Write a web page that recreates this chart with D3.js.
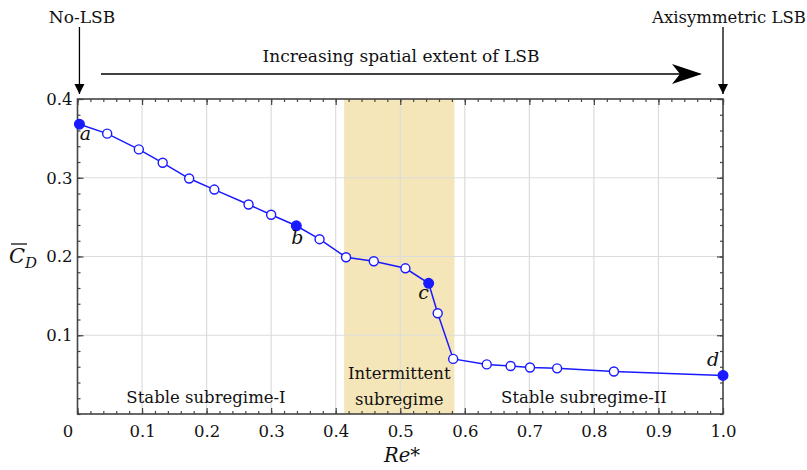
<!DOCTYPE html>
<html>
  <head>
    <meta charset="utf-8">
    <title>Drag coefficient vs Re*</title>
    <script src="https://d3js.org/d3.v7.min.js"></script>
    <style>
      body { margin: 0; background: #fff; }
      .grid line { stroke: #dcdcdc; stroke-width: 1.2; }
      .axis path { display: none; }
      .axis line { stroke: #444; stroke-width: 1.2; }
    </style>
  </head>
  <body>
    <svg id="chart" width="807" height="470" fill="#111"></svg>
    <script>
      // chart data
      var reStar = [0.003, 0.046, 0.095, 0.132, 0.173, 0.212, 0.265, 0.300, 0.339, 0.375, 0.416,
                    0.459, 0.508, 0.544, 0.558, 0.582, 0.634, 0.671, 0.701, 0.743, 0.831, 1.0];
      var cd = [0.368, 0.356, 0.336, 0.319, 0.299, 0.285, 0.266, 0.253, 0.239, 0.222, 0.199,
                0.194, 0.185, 0.166, 0.128, 0.070, 0.063, 0.061, 0.059, 0.058, 0.054, 0.049];
      // highlighted cases a-d (index into the series)
      var caseIdx = [0, 8, 13, 21];
      var caseNames = ["a", "b", "c", "d"];
      var intermittent = [0.413, 0.584];
      var xTicks = [0, 0.1, 0.2, 0.3, 0.4, 0.5, 0.6, 0.7, 0.8, 0.9, 1.0];
      var xTickLabels = ["0", "0.1", "0.2", "0.3", "0.4", "0.5", "0.6", "0.7", "0.8", "0.9", "1.0"];
      var yTicks = [0.1, 0.2, 0.3, 0.4];
      var yTickLabels = ["0.1", "0.2", "0.3", "0.4"];
      var regimes = ["Stable subregime-I", "Stable subregime-II"];

      var data = reStar.map(function(r, i) { return { x: r, y: cd[i], filled: caseIdx.indexOf(i) >= 0 }; });

      var FONT = "DejaVu Serif";
      var svg = d3.select("#chart");
      var margin = { left: 77.5, right: 84, top: 99, bottom: 56 };
      var width = 807, height = 470;
      var x = d3.scaleLinear().domain([0, 1]).range([margin.left, width - margin.right]);
      var y = d3.scaleLinear().domain([0, 0.4]).range([height - margin.bottom, margin.top]);
      var minor = d3.range(0, 1.0001, 0.02);
      var minorY = d3.range(0, 0.4001, 0.02);

      // shaded intermittent band
      svg.append("rect")
        .attr("x", x(intermittent[0]))
        .attr("y", y(0.4))
        .attr("width", x(intermittent[1]) - x(intermittent[0]))
        .attr("height", y(0) - y(0.4))
        .attr("fill", "#f5e6b9");

      // grid
      var grid = svg.append("g").attr("class", "grid");
      grid.selectAll(".gx").data(xTicks.slice(1, -1)).enter().append("line")
        .attr("x1", function(d) { return x(d); }).attr("x2", function(d) { return x(d); })
        .attr("y1", y(0)).attr("y2", y(0.4));
      grid.selectAll(".gy").data(yTicks.slice(0, -1)).enter().append("line")
        .attr("y1", function(d) { return y(d); }).attr("y2", function(d) { return y(d); })
        .attr("x1", x(0)).attr("x2", x(1));

      // axes, ticks pointing inward
      var bottomAxis = d3.axisBottom(x).tickValues(xTicks).tickSize(-6).tickPadding(11)
        .tickFormat(function(d, i) { return xTickLabels[i]; });
      var gb = svg.append("g").attr("class", "axis").attr("transform", "translate(0," + y(0) + ")").call(bottomAxis);
      gb.selectAll(".tick text").filter(function(d) { return d === 0; }).attr("dx", -10);
      svg.append("g").attr("class", "axis").attr("transform", "translate(0," + y(0) + ")")
        .call(d3.axisBottom(x).tickValues(minor).tickSize(-3).tickFormat(""));
      svg.append("g").attr("class", "axis").attr("transform", "translate(0," + y(0.4) + ")")
        .call(d3.axisTop(x).tickValues(xTicks).tickSize(-6).tickFormat(""));
      svg.append("g").attr("class", "axis").attr("transform", "translate(0," + y(0.4) + ")")
        .call(d3.axisTop(x).tickValues(minor).tickSize(-3).tickFormat(""));

      var leftAxis = d3.axisLeft(y).tickValues(yTicks).tickSize(-6).tickPadding(5)
        .tickFormat(function(d, i) { return yTickLabels[i]; });
      svg.append("g").attr("class", "axis").attr("transform", "translate(" + x(0) + ",0)").call(leftAxis);
      svg.append("g").attr("class", "axis").attr("transform", "translate(" + x(0) + ",0)")
        .call(d3.axisLeft(y).tickValues(minorY).tickSize(-3).tickFormat(""));
      svg.append("g").attr("class", "axis").attr("transform", "translate(" + x(1) + ",0)")
        .call(d3.axisRight(y).tickValues(yTicks).tickSize(-6).tickFormat(""));
      svg.append("g").attr("class", "axis").attr("transform", "translate(" + x(1) + ",0)")
        .call(d3.axisRight(y).tickValues(minorY).tickSize(-3).tickFormat(""));
      svg.selectAll(".axis").attr("font-family", FONT).attr("font-size", 16.5);
      svg.selectAll(".axis text").attr("fill", "#111");

      // frame
      svg.append("rect")
        .attr("x", x(0)).attr("y", y(0.4))
        .attr("width", x(1) - x(0)).attr("height", y(0) - y(0.4))
        .attr("fill", "none").attr("stroke", "#444").attr("stroke-width", 1.6);

      function label(px, py, str, size, italic, anchor) {
        return svg.append("text").attr("x", px).attr("y", py).attr("text-anchor", anchor || "middle")
          .attr("font-family", FONT).attr("font-size", size)
          .attr("font-style", italic ? "italic" : null).attr("fill", "#111").text(str);
      }

      // region labels
      var midBand = (x(intermittent[0]) + x(intermittent[1])) / 2;
      label(206, 403, regimes[0], 16.5);
      label(584, 403, regimes[1], 16.5);
      label(midBand, 379, "Intermittent", 16.5);
      label(midBand, 405, "subregime", 16.5);

      // series
      var line = d3.line().x(function(d) { return x(d.x); }).y(function(d) { return y(d.y); });
      svg.append("path").datum(data)
        .attr("d", line).attr("fill", "none").attr("stroke", "#1a1aff").attr("stroke-width", 1.5);
      svg.selectAll(".pt").data(data).enter().append("circle")
        .attr("cx", function(d) { return x(d.x); })
        .attr("cy", function(d) { return y(d.y); })
        .attr("r", function(d) { return d.filled ? 4.8 : 4.5; })
        .attr("fill", function(d) { return d.filled ? "#1a1aff" : "#fff"; })
        .attr("stroke", "#1a1aff").attr("stroke-width", 1.4);

      // case letters
      var letterOffsets = [[6, 16], [1, 18], [-5, 16], [-10, -9]];
      caseIdx.forEach(function(k, i) {
        label(x(reStar[k]) + letterOffsets[i][0], y(cd[k]) + letterOffsets[i][1], caseNames[i], 19, true);
      });

      // axis titles
      label(402, 462, "Re*", 19.5, true);
      var cdLabel = svg.append("text").attr("x", 9).attr("y", 263)
        .attr("font-family", FONT).attr("font-size", 21).attr("font-style", "italic").attr("fill", "#111");
      cdLabel.append("tspan").text("C");
      cdLabel.append("tspan").attr("dy", 5).attr("font-size", 15).text("D");
      svg.append("line").attr("x1", 11).attr("x2", 27).attr("y1", 244).attr("y2", 244)
        .attr("stroke", "#111").attr("stroke-width", 1.3);

      // top annotations
      svg.append("defs").html(
        '<marker id="tri" viewBox="0 0 10 10" refX="10" refY="5" markerWidth="10" markerHeight="13" markerUnits="userSpaceOnUse" orient="auto"><path d="M0,0 L10,5 L0,10 z" fill="#000"/></marker>' +
        '<marker id="big" viewBox="0 0 30 20" refX="28" refY="10" markerWidth="30" markerHeight="20" markerUnits="userSpaceOnUse" orient="auto"><path d="M0,0 L30,10 L0,20 L8,10 z" fill="#000"/></marker>');
      label(82, 23, "No-LSB", 17);
      label(806, 23, "Axisymmetric LSB", 16.5, false, "end");
      svg.append("line").attr("x1", x(0.003)).attr("x2", x(0.003)).attr("y1", 27).attr("y2", 94)
        .attr("stroke", "#000").attr("stroke-width", 1.3).attr("marker-end", "url(#tri)");
      svg.append("line").attr("x1", x(1)).attr("x2", x(1)).attr("y1", 27).attr("y2", 94)
        .attr("stroke", "#000").attr("stroke-width", 1.3).attr("marker-end", "url(#tri)");
      svg.append("line").attr("x1", 101).attr("x2", 700).attr("y1", 74).attr("y2", 74)
        .attr("stroke", "#000").attr("stroke-width", 1.6).attr("marker-end", "url(#big)");
      label(401, 62, "Increasing spatial extent of LSB", 17);
    </script>
  </body>
</html>
